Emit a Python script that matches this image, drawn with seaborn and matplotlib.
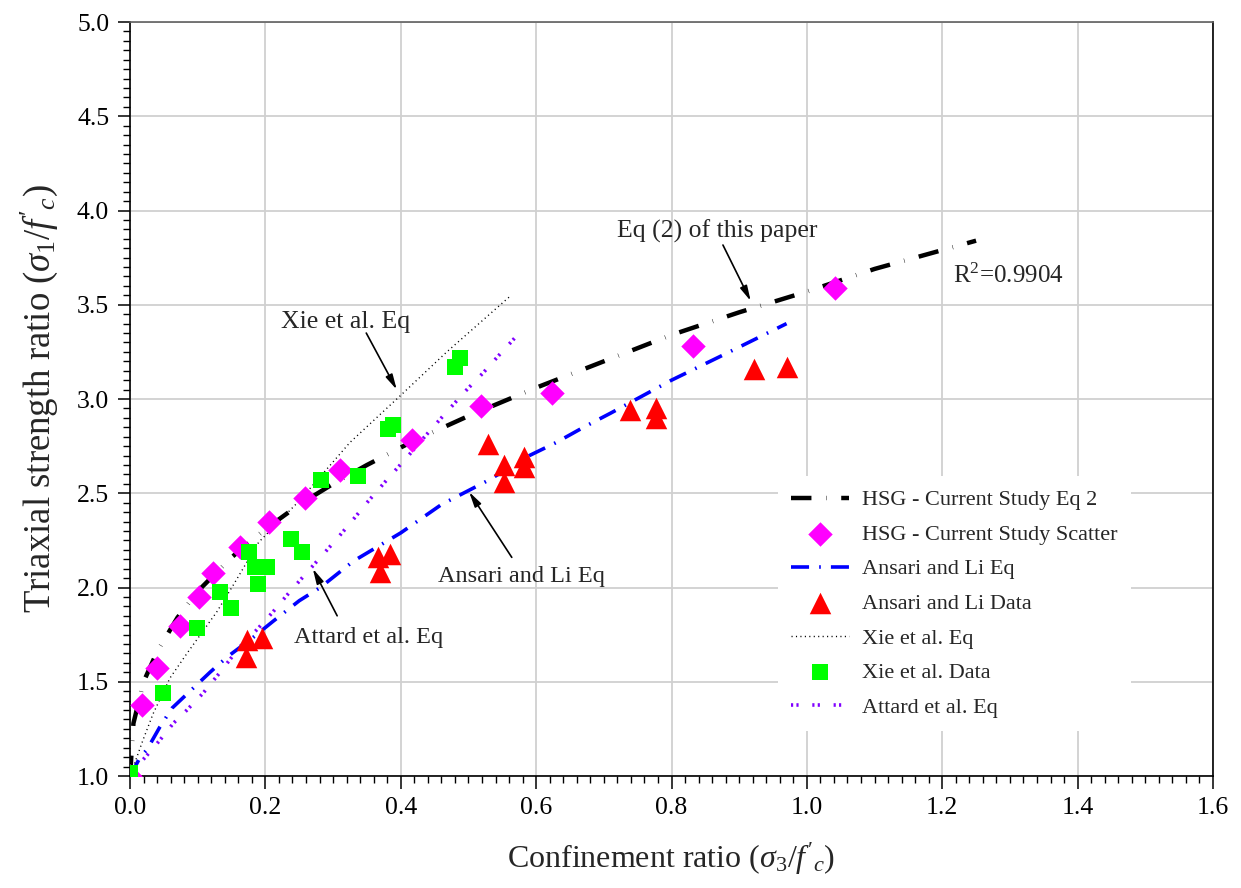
import matplotlib
matplotlib.use("Agg")
import matplotlib.pyplot as plt
import seaborn as sns
from matplotlib.ticker import MultipleLocator, FormatStrFormatter

# ---- curves (confinement ratio vs triaxial strength ratio) ----
hsg_eq_x = [0.0, 0.005, 0.02, 0.04, 0.07, 0.10, 0.15, 0.20, 0.25, 0.30, 0.35, 0.42,
            0.50, 0.60, 0.70, 0.80, 0.90, 1.00, 1.10, 1.17, 1.25]
hsg_eq_y = [1.0, 1.28, 1.50, 1.66, 1.84, 1.98, 2.16, 2.31, 2.44, 2.55, 2.65, 2.78,
            2.91, 3.06, 3.20, 3.34, 3.46, 3.57, 3.69, 3.76, 3.84]

ansari_eq_x = [0.0, 0.015, 0.025, 0.044, 0.062, 0.09, 0.118, 0.143, 0.18, 0.211, 0.25,
               0.281, 0.33, 0.40, 0.46, 0.53, 0.59, 0.63, 0.67, 0.71, 0.80, 0.88, 0.97]
ansari_eq_y = [1.0, 1.10, 1.14, 1.26, 1.36, 1.455, 1.55, 1.63, 1.73, 1.82, 1.93,
               2.00, 2.14, 2.29, 2.44, 2.57, 2.70, 2.77, 2.85, 2.925, 3.10, 3.24, 3.40]

xie_eq_x = [0.0, 0.005, 0.019, 0.034, 0.059, 0.084, 0.128, 0.152, 0.19, 0.25, 0.325,
            0.40, 0.468, 0.563]
xie_eq_y = [1.0, 1.05, 1.19, 1.33, 1.52, 1.65, 1.87, 2.01, 2.24, 2.46, 2.77,
            3.02, 3.25, 3.55]

attard_eq_x = [0.0, 0.01, 0.025, 0.044, 0.064, 0.084, 0.108, 0.133, 0.162, 0.187, 0.211,
               0.232, 0.254, 0.28, 0.306, 0.325, 0.35, 0.384, 0.409, 0.428, 0.45, 0.47,
               0.495, 0.522, 0.547, 0.57]
attard_eq_y = [1.0, 1.05, 1.11, 1.19, 1.28, 1.35, 1.44, 1.55, 1.685, 1.775, 1.87,
               1.96, 2.05, 2.155, 2.26, 2.34, 2.45, 2.59, 2.69, 2.77, 2.86, 2.94,
               3.04, 3.14, 3.24, 3.33]

# ---- test data ----
hsg_x = [0.0, 0.018, 0.04, 0.074, 0.102, 0.123, 0.162, 0.205, 0.258, 0.31, 0.416,
         0.518, 0.623, 0.832, 1.041]
hsg_y = [1.0, 1.377, 1.573, 1.796, 1.95, 2.075, 2.215, 2.347, 2.475, 2.623, 2.78,
         2.963, 3.03, 3.28, 3.59]

ansari_x = [0.0, 0.173, 0.195, 0.171, 0.366, 0.384, 0.369, 0.529, 0.552, 0.552,
            0.582, 0.582, 0.739, 0.777, 0.777, 0.922, 0.97]
ansari_y = [1.0, 1.72, 1.73, 1.63, 2.16, 2.18, 2.08, 2.76, 2.65, 2.56,
            2.69, 2.64, 2.94, 2.95, 2.90, 3.16, 3.17]

xie_x = [0.0, 0.049, 0.099, 0.133, 0.149, 0.176, 0.185, 0.202, 0.189, 0.238, 0.254,
         0.282, 0.337, 0.381, 0.388, 0.48, 0.488]
xie_y = [1.016, 1.44, 1.785, 1.976, 1.89, 2.19, 2.11, 2.11, 2.02, 2.26, 2.19,
         2.57, 2.59, 2.84, 2.86, 3.17, 3.22]

legend_labels = ["HSG - Current Study Eq 2", "HSG - Current Study Scatter",
                 "Ansari and Li Eq", "Ansari and Li Data", "Xie et al. Eq",
                 "Xie et al. Data", "Attard et al. Eq"]

sns.set_style("ticks")
plt.rcParams["font.family"] = ["Liberation Serif", "DejaVu Serif"]
plt.rcParams["mathtext.fontset"] = "custom"
plt.rcParams["mathtext.rm"] = "Liberation Serif"
plt.rcParams["mathtext.it"] = "Liberation Serif:italic"

fig = plt.figure(figsize=(12.41, 8.88), dpi=100)
ax = fig.add_axes([0.1048, 0.1261, 0.8726, 0.8491])


def curve(x, y, color, lw, dashes, label):
    sns.lineplot(x=x, y=y, ax=ax, color=color, lw=lw, sort=False,
                 estimator=None, label=label, legend=False)
    ln = ax.lines[-1]
    ln.set_dashes(dashes)
    ln.set_dash_capstyle("butt")
    return ln


h_hsg_eq = curve(hsg_eq_x, hsg_eq_y, "black", 3.2, [4.6, 3.3, 0.1, 3.3], legend_labels[0])
h_ans_eq = curve(ansari_eq_x, ansari_eq_y, "#0000ff", 2.6, [5.0, 2.8, 0.45, 2.8], legend_labels[2])
h_xie_eq = curve(xie_eq_x, xie_eq_y, "black", 1.0, [0.8, 2.4], legend_labels[4])
h_att_eq = curve(attard_eq_x, attard_eq_y, "#8000ff", 2.6, [0.6, 0.9, 0.6, 3.8], legend_labels[6])


def points(x, y, color, marker, size, label):
    sns.scatterplot(x=x, y=y, ax=ax, color=color, marker=marker, s=size,
                    linewidth=0, label=label, legend=False, zorder=3)
    return ax.collections[-1]


h_hsg = points(hsg_x, hsg_y, "#ff00ff", "D", 155, legend_labels[1])
h_ans = points(ansari_x, ansari_y, "#ff0000", "^", 240, legend_labels[3])
h_xie = points(xie_x, xie_y, "#00ff00", "s", 120, legend_labels[5])

ax.set_xlim(0, 1.6)
ax.set_ylim(1.0, 5.0)
ax.xaxis.set_major_locator(MultipleLocator(0.2))
ax.xaxis.set_minor_locator(MultipleLocator(0.02))
ax.yaxis.set_major_locator(MultipleLocator(0.5))
ax.yaxis.set_minor_locator(MultipleLocator(0.05))
ax.xaxis.set_major_formatter(FormatStrFormatter("%.1f"))
ax.yaxis.set_major_formatter(FormatStrFormatter("%.1f"))
ax.tick_params(which="major", direction="out", length=9, width=1.1, labelsize=18.5,
               color="black", labelcolor="black", pad=6)
ax.tick_params(which="minor", direction="out", length=5, width=1.0, color="black")
ax.grid(True, which="major", color="#d0d0d0", lw=1.3)
ax.set_axisbelow(True)
for side in ["left", "bottom", "right"]:
    ax.spines[side].set_color("black")
    ax.spines[side].set_linewidth(1.2)
ax.spines["top"].set_color("#606060")
ax.spines["top"].set_linewidth(1.2)

ax.set_xlabel(r"Confinement ratio ($\sigma_3/f'_c$)", fontsize=23, labelpad=16)
ax.set_ylabel(r"Triaxial strength ratio ($\sigma_1/f'_c$)", fontsize=26.5, labelpad=12)

arrow = dict(arrowstyle="-|>,head_length=0.9,head_width=0.22", color="black",
             lw=1.2, shrinkA=0, shrinkB=0)
ax.text(0.867, 3.89, "Eq (2) of this paper", fontsize=18.5, ha="center", va="center")
ax.annotate("", xy=(0.917, 3.52), xytext=(0.876, 3.817), arrowprops=arrow)
ax.text(1.216, 3.615, r"R$^{2}$=0.9904", fontsize=18, ha="left", va="baseline")
ax.text(0.318, 3.41, "Xie et al. Eq", fontsize=18.5, ha="center", va="center")
ax.annotate("", xy=(0.394, 3.05), xytext=(0.349, 3.35), arrowprops=arrow)
ax.text(0.578, 2.056, "Ansari and Li Eq", fontsize=17.5, ha="center", va="center")
ax.annotate("", xy=(0.501, 2.507), xytext=(0.564, 2.16), arrowprops=arrow)
ax.text(0.353, 1.737, "Attard et al. Eq", fontsize=17.5, ha="center", va="center")
ax.annotate("", xy=(0.27, 2.10), xytext=(0.306, 1.85), arrowprops=arrow)

handles = [h_hsg_eq, h_hsg, h_ans_eq, h_ans, h_xie_eq, h_xie, h_att_eq]
leg = ax.legend(handles, legend_labels, loc="upper left", bbox_to_anchor=(0.588, 0.412),
                fontsize=16, frameon=True, fancybox=False, framealpha=1,
                facecolor="white", edgecolor="none", handlelength=2.6,
                handletextpad=0.6, labelspacing=0.63, borderpad=0.6)
leg.set_zorder(5)

fig.savefig("out.png", dpi=100)
